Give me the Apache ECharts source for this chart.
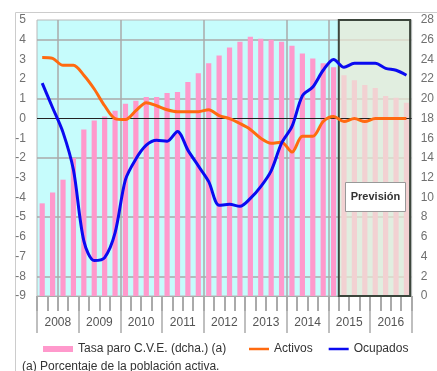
<!DOCTYPE html>
<html><head><meta charset="utf-8">
<script src="https://cdn.jsdelivr.net/npm/echarts@6/dist/echarts.min.js"></script>
<style>html,body{margin:0;padding:0;background:#fff}#c{width:437px;height:371px}</style>
</head><body><div id="c"></div>
<script>
// ---- data ----
const years = ['2008','2009','2010','2011','2012','2013','2014','2015','2016'];
const quarterNames = ['T1','T2','T3','T4'];
const quarters = years.flatMap(y => quarterNames.map(q => y + q));
const tasaParo = [9.4,10.5,11.8,14.0,16.9,17.8,18.2,18.8,19.5,19.8,20.2,20.2,20.6,20.7,21.7,22.6,
                  23.6,24.4,25.2,25.8,26.3,26.1,26.0,25.8,25.4,24.6,24.1,23.6,23.2,22.4,21.9,21.4,
                  21.1,20.3,20.1,19.6];
const activos = [3.1,3.05,2.7,2.7,2.2,1.5,0.65,0.0,-0.05,0.4,0.8,0.65,0.45,0.35,0.35,0.35,
                 0.45,0.15,0.0,-0.25,-0.55,-1.0,-1.25,-1.2,-1.7,-0.9,-0.9,-0.15,0.1,-0.15,0.0,-0.15,
                 0.0,0.0,0.0,0.0];
const ocupados = [1.8,0.55,-0.7,-2.6,-6.2,-7.2,-7.05,-5.8,-3.1,-2.05,-1.35,-1.1,-1.15,-0.65,-1.6,-2.4,
                  -3.2,-4.4,-4.35,-4.45,-4.05,-3.45,-2.65,-1.25,-0.4,1.15,1.6,2.45,3.0,2.6,2.8,2.8,
                  2.8,2.55,2.45,2.2];
const gridLinesY = [4,1,-2,-5,-8];
const gridLinesX = [2,8,16,24,28];
const forecastFrom = 29, forecastTo = 35.85;
const names = ['Tasa paro C.V.E. (dcha.) (a)','Activos','Ocupados'];

const FONT = "'Liberation Sans', Arial, sans-serif";
const chart = echarts.init(document.getElementById('c'), null, {renderer:'canvas'});
chart.setOption({
  animation:false,
  textStyle:{fontFamily:FONT},
  grid:{left:37,right:25,top:20,bottom:75,show:true,backgroundColor:'#c6fcfc',borderColor:'#b8b8b8',borderWidth:1},
  legend:[
    {data:[names[0]],left:38,top:338,icon:'rect',itemWidth:30,itemHeight:6,
     textStyle:{fontSize:12,color:'#333',fontFamily:FONT},selectedMode:false},
    {data:[{name:names[1],icon:'rect'},{name:names[2],icon:'rect'}],left:244,top:338,itemWidth:20,itemHeight:2.5,itemGap:16,
     textStyle:{fontSize:12,color:'#333',fontFamily:FONT},selectedMode:false}
  ],
  xAxis:[
    {type:'category',data:quarters,boundaryGap:true,
     axisLine:{show:true,onZero:false,lineStyle:{color:'#aaa'}},
     axisTick:{show:true,interval:0,length:15,lineStyle:{color:'#aaa',width:2}},
     axisLabel:{show:false},splitLine:{show:false},splitArea:{show:false}},
    {type:'category',data:years,boundaryGap:true,position:'bottom',
     axisLine:{show:false,onZero:false},
     axisTick:{show:true,interval:0,length:37,lineStyle:{color:'#aaa',width:1.5}},
     axisLabel:{margin:21,fontSize:12,color:'#555',fontFamily:FONT},splitLine:{show:false},splitArea:{show:false}},
    {type:'value',min:0,max:36,show:false,axisLine:{onZero:false}}
  ],
  yAxis:[
    {type:'value',min:-9,max:5,interval:1,position:'left',
     axisLine:{show:false,onZero:false},axisTick:{show:false},splitLine:{show:false},splitArea:{show:false},
     axisLabel:{margin:11,fontSize:12,color:'#707070',fontFamily:FONT}},
    {type:'value',min:0,max:28,interval:2,position:'right',
     axisLine:{show:false,onZero:false},axisTick:{show:false},splitLine:{show:false},splitArea:{show:false},
     axisLabel:{margin:9,fontSize:12,color:'#707070',fontFamily:FONT}}
  ],
  series:[
    {type:'line',xAxisIndex:2,yAxisIndex:0,data:[[0,5],[36,5]],symbol:'none',silent:true,z:1,
     lineStyle:{opacity:0},
     markLine:{silent:true,z:1,symbol:'none',label:{show:false},
       lineStyle:{color:'#aaaaaa',width:1.5,type:'solid'},
       data:[...gridLinesY.map(v=>({yAxis:v})),...gridLinesX.map(v=>({xAxis:v}))]}},
    {name:names[0],type:'bar',xAxisIndex:0,yAxisIndex:1,data:tasaParo,barWidth:'50%',z:2,
     itemStyle:{color:'#ff99cc'}},
    {type:'line',xAxisIndex:2,yAxisIndex:0,data:[[0,5],[36,5]],symbol:'none',silent:true,z:3,
     lineStyle:{opacity:0},
     markArea:{silent:true,z:3,itemStyle:{color:'rgba(236,232,212,0.7)',borderColor:'#3c463c',borderWidth:2},
       data:[[{xAxis:forecastFrom,yAxis:5},{xAxis:forecastTo,yAxis:-9}]]}},
    {type:'line',xAxisIndex:2,yAxisIndex:0,data:[[0,5],[36,5]],symbol:'none',silent:true,z:4,
     lineStyle:{opacity:0},
     markLine:{silent:true,z:4,symbol:'none',label:{show:false},
       lineStyle:{color:'#222',width:1,type:'solid'},data:[{yAxis:0}]}},
    {name:names[1],type:'line',xAxisIndex:0,yAxisIndex:0,data:activos,symbol:'none',smooth:0.3,z:5,
     lineStyle:{color:'#ff6a10',width:3},itemStyle:{color:'#ff6a10'}},
    {name:names[2],type:'line',xAxisIndex:0,yAxisIndex:0,data:ocupados,symbol:'none',smooth:0.3,z:6,
     lineStyle:{color:'#0a0af0',width:3},itemStyle:{color:'#0a0af0'}}
  ],
  graphic:[
    {type:'polyline',shape:{points:[[15.5,371],[15.5,12.5],[437,12.5]]},style:{stroke:'#cccccc',lineWidth:1,fill:null},z:0},
    {type:'rect',shape:{x:345.5,y:182.5,width:60,height:29},style:{fill:'#fff',stroke:'#999',lineWidth:1},z:100},
    {type:'text',x:375.5,y:197,style:{text:'Previsión',fontFamily:FONT,fontSize:11,fontWeight:'bold',fill:'#333',align:'center',verticalAlign:'middle'},z:101},
    {type:'text',left:22,top:361,style:{text:'(a) Porcentaje de la población activa.',fontFamily:FONT,fontSize:12,fill:'#333'},z:100}
  ]
});
</script></body></html>
